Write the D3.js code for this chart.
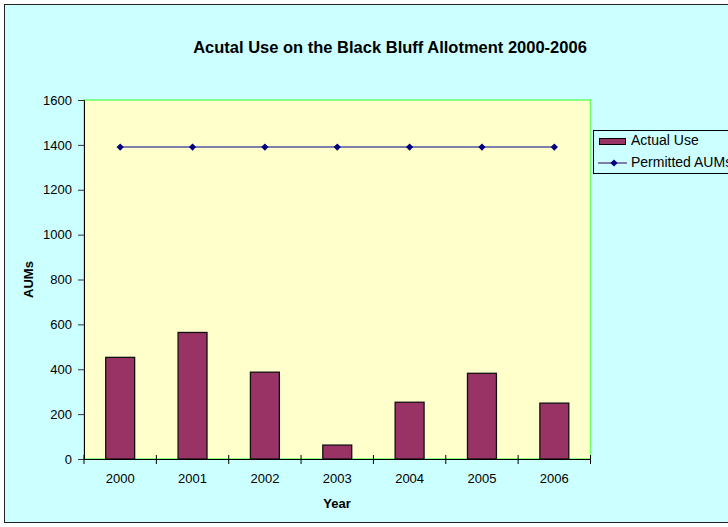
<!DOCTYPE html>
<html>
<head>
<meta charset="utf-8">
<script src="https://cdn.jsdelivr.net/npm/d3@7"></script>
<style>
  body { margin: 0; background: #fff; }
  text { font-family: Arial, "Liberation Sans", sans-serif; }
</style>
</head>
<body>
<svg width="728" height="527"></svg>
<script>
const years = ['2000', '2001', '2002', '2003', '2004', '2005', '2006'];
const actualUse = [453, 564, 387, 62, 253, 382, 249];
const permitted = [1390, 1390, 1390, 1390, 1390, 1390, 1390];
const yTicks = [0, 200, 400, 600, 800, 1000, 1200, 1400, 1600];

const svg = d3.select('svg');
const font = 'Arial, "Liberation Sans", sans-serif';

// chart area
svg.append('rect')
  .attr('x', 4.5).attr('y', 4.5)
  .attr('width', 740).attr('height', 518)
  .attr('fill', '#CCFFFF')
  .attr('stroke', '#222').attr('stroke-width', 1);

const plotLeft = 84, plotRight = 590.5, plotTop = 100, plotBottom = 459;

const x = d3.scaleBand().domain(years).range([plotLeft, plotRight]).paddingInner(0.6).paddingOuter(0.3);
const xb = d3.scaleBand().domain(years).range([plotLeft, plotRight]);
const y = d3.scaleLinear().domain([0, 1600]).range([plotBottom, plotTop]);

// plot area
svg.append('rect')
  .attr('x', plotLeft).attr('y', plotTop)
  .attr('width', plotRight - plotLeft).attr('height', plotBottom - plotTop)
  .attr('fill', '#FFFFCC')
  .attr('stroke', '#66FF66').attr('stroke-width', 1.5);

// bars
svg.selectAll('.bar')
  .data(years)
  .enter()
  .append('rect')
  .attr('class', 'bar')
  .attr('x', d => x(d))
  .attr('y', (d, i) => y(actualUse[i]))
  .attr('width', x.bandwidth())
  .attr('height', (d, i) => plotBottom - y(actualUse[i]))
  .attr('fill', '#993366')
  .attr('stroke', '#111').attr('stroke-width', 1.3);

// axes
const yAxis = svg.append('g')
  .attr('transform', 'translate(' + plotLeft + ',0)')
  .call(d3.axisLeft(y).tickValues(yTicks).tickSize(6).tickPadding(6).tickFormat(d3.format('d')));
yAxis.select('.domain').attr('stroke', '#000');
yAxis.selectAll('.tick line').attr('stroke', '#333');
yAxis.selectAll('text').attr('font-size', 13).attr('fill', '#000').attr('font-family', font);

const xAxis = svg.append('g')
  .attr('transform', 'translate(0,' + plotBottom + ')')
  .call(d3.axisBottom(xb).tickSize(0).tickPadding(15));
xAxis.select('.domain').attr('stroke', '#000');
xAxis.selectAll('text').attr('font-size', 13).attr('fill', '#000').attr('font-family', font);

// category boundary ticks
svg.append('g').selectAll('line')
  .data(years.concat(['end']))
  .enter()
  .append('line')
  .attr('x1', (d, i) => i < years.length ? xb(d) : plotRight)
  .attr('x2', (d, i) => i < years.length ? xb(d) : plotRight)
  .attr('y1', plotBottom - 4).attr('y2', plotBottom + 5)
  .attr('stroke', '#000');

// permitted line
const line = d3.line()
  .x((d, i) => xb(years[i]) + xb.bandwidth() / 2)
  .y(d => y(d));

svg.append('path')
  .datum(permitted)
  .attr('d', line)
  .attr('fill', 'none')
  .attr('stroke', '#7F7FAA').attr('stroke-width', 2);

svg.selectAll('.pt')
  .data(permitted)
  .enter()
  .append('path')
  .attr('class', 'pt')
  .attr('d', d3.symbol().type(d3.symbolSquare).size(26))
  .attr('transform', (d, i) => 'translate(' + (xb(years[i]) + xb.bandwidth() / 2) + ',' + y(d) + ') rotate(45)')
  .attr('fill', '#000080');

// title and axis labels
svg.append('text')
  .attr('x', 390).attr('y', 53)
  .attr('text-anchor', 'middle')
  .attr('font-size', 16.5).attr('font-weight', 'bold')
  .text('Acutal Use on the Black Bluff Allotment 2000-2006');

svg.append('text')
  .attr('x', 337).attr('y', 508)
  .attr('text-anchor', 'middle')
  .attr('font-size', 13).attr('font-weight', 'bold')
  .text('Year');

svg.append('text')
  .attr('transform', 'translate(33,' + ((plotTop + plotBottom) / 2) + ') rotate(-90)')
  .attr('text-anchor', 'middle')
  .attr('font-size', 13).attr('font-weight', 'bold')
  .text('AUMs');

// legend
const lg = svg.append('g').attr('transform', 'translate(593,130)');
lg.append('rect')
  .attr('x', 0.5).attr('y', 0.5)
  .attr('width', 150).attr('height', 43)
  .attr('fill', '#CCFFFF')
  .attr('stroke', '#000');
lg.append('rect')
  .attr('x', 6.5).attr('y', 8.5).attr('width', 26).attr('height', 6)
  .attr('fill', '#993366').attr('stroke', '#000');
lg.append('text')
  .attr('x', 38).attr('y', 15)
  .attr('font-size', 14)
  .text('Actual Use');
lg.append('line')
  .attr('x1', 5).attr('x2', 34).attr('y1', 33).attr('y2', 33)
  .attr('stroke', '#7F7FAA').attr('stroke-width', 2);
lg.append('path')
  .attr('d', d3.symbol().type(d3.symbolSquare).size(26))
  .attr('transform', 'translate(21,33) rotate(45)')
  .attr('fill', '#000080');
lg.append('text')
  .attr('x', 38).attr('y', 37)
  .attr('font-size', 14)
  .text('Permitted AUMs');
</script>
</body>
</html>
